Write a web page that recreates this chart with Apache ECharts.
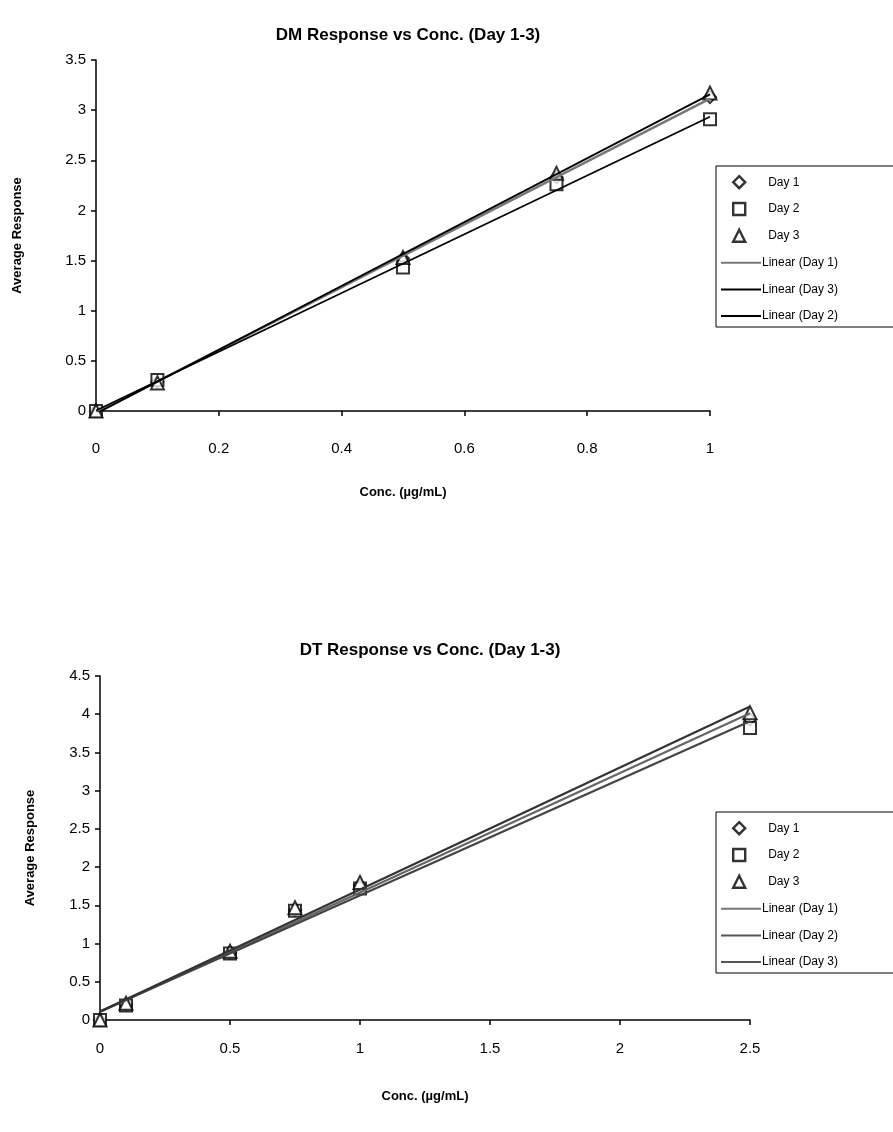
<!DOCTYPE html>
<html><head><meta charset="utf-8">
<script src="https://cdn.jsdelivr.net/npm/echarts@6/dist/echarts.min.js"></script>
<style>html,body{margin:0;padding:0;background:#fff}#c{width:893px;height:1132px}</style>
</head><body><div id="c"></div>
<script>
// ---- Top chart (DM) ----
const dmConc = [0, 0.1, 0.5, 0.75, 1];
const dmDay1 = [0.0, 0.29, 1.52, 2.33, 3.13];
const dmDay2 = [0.0, 0.31, 1.43, 2.26, 2.91];
const dmDay3 = [0.0, 0.28, 1.53, 2.37, 3.17];
// ---- Bottom chart (DT) ----
const dtConc = [0, 0.1, 0.5, 0.75, 1, 2.5];
const dtDay1 = [0.0, 0.20, 0.88, 1.44, 1.76, 3.93];
const dtDay2 = [0.0, 0.19, 0.87, 1.43, 1.72, 3.82];
const dtDay3 = [0.0, 0.22, 0.90, 1.47, 1.80, 4.02];

const titles = ['DM Response vs Conc. (Day 1-3)', 'DT Response vs Conc. (Day 1-3)'];
const xName = 'Conc. (µg/mL)';
const yName = 'Average Response';

function fit(xs, ys) {
  const n = xs.length;
  const mx = xs.reduce((a, b) => a + b, 0) / n;
  const my = ys.reduce((a, b) => a + b, 0) / n;
  let sxy = 0, sxx = 0;
  for (let i = 0; i < n; i++) { sxy += (xs[i] - mx) * (ys[i] - my); sxx += (xs[i] - mx) ** 2; }
  const a = sxy / sxx, b = my - a * mx;
  const x0 = Math.min(...xs), x1 = Math.max(...xs);
  return [[x0, a * x0 + b], [x1, a * x1 + b]];
}
const pts = (xs, ys) => xs.map((x, i) => [x, ys[i]]);

const FONT = '"Liberation Sans", Arial, sans-serif';
const markerStyle = { color: '#fff', borderColor: '#000', borderWidth: 2 };
const LINE_ICON = 'path://M0,0 L40,0 L40,2 L0,2 Z';

function scatter(name, sym, xs, ys, gi) {
  return { name, type: 'scatter', xAxisIndex: gi, yAxisIndex: gi, symbol: sym, symbolSize: sym === 'triangle' ? 13 : 12,
    itemStyle: markerStyle, data: pts(xs, ys), z: 3 };
}
function trend(name, xs, ys, gi, color, w) {
  return { name, type: 'line', xAxisIndex: gi, yAxisIndex: gi, symbol: 'none', showSymbol: false,
    lineStyle: { color, width: w }, itemStyle: { color }, data: fit(xs, ys), z: 4, silent: true };
}

const axisCommon = {
  axisLine: { show: true, onZero: false, lineStyle: { color: '#000', width: 1.5 } },
  axisTick: { show: true, inside: false, length: 5, lineStyle: { color: '#000', width: 1.5 } },
  splitLine: { show: false },
  axisLabel: { color: '#000', fontSize: 15, fontFamily: FONT, margin: 10 },
  nameTextStyle: { color: '#000', fontSize: 13, fontWeight: 'bold', fontFamily: FONT },
  nameLocation: 'middle'
};

const ROW = 26.6;
const legendText = { color: '#000', fontSize: 12, fontFamily: FONT };
function markerLegend(left, top, names, labels, syms) {
  return { orient: 'vertical', left, top, itemWidth: 12, itemHeight: 12, itemGap: 12.4, padding: 0,
    selectedMode: false, z: 10, textStyle: Object.assign({}, legendText, { padding: [0, 0, 0, 18] }),
    formatter: n => labels[names.indexOf(n)],
    data: names.map((n, i) => ({ name: n, icon: syms[i], itemStyle: { color: '#fff', borderColor: '#000', borderWidth: 2.4 } })) };
}
function lineLegend(left, top, names, labels, colors) {
  return { orient: 'vertical', left, top, itemWidth: 40, itemHeight: 12, itemGap: ROW - 12,
    padding: [11 + 3 * ROW, 90, 5, 5], borderColor: '#000', borderWidth: 1, selectedMode: false, z: 9,
    textStyle: Object.assign({}, legendText, { padding: [0, 0, 0, -4] }),
    formatter: n => labels[names.indexOf(n)],
    data: names.map((n, i) => ({ name: n, icon: LINE_ICON, itemStyle: { color: colors[i], borderWidth: 0 } })) };
}

const option = {
  backgroundColor: '#fff',
  animation: false,
  title: [
    { text: titles[0], left: 403, top: 22, textAlign: 'center', textStyle: { fontSize: 17, fontWeight: 'bold', color: '#000', fontFamily: FONT } },
    { text: titles[1], left: 425, top: 637, textAlign: 'center', textStyle: { fontSize: 17, fontWeight: 'bold', color: '#000', fontFamily: FONT } }
  ],
  grid: [
    { left: 96, top: 60, width: 614, height: 351 },
    { left: 100, top: 676, width: 650, height: 344 }
  ],
  xAxis: [
    Object.assign({}, axisCommon, { gridIndex: 0, type: 'value', min: 0, max: 1, interval: 0.2, name: xName, nameGap: 75,
      axisLabel: Object.assign({}, axisCommon.axisLabel, { margin: 30 }) }),
    Object.assign({}, axisCommon, { gridIndex: 1, type: 'value', min: 0, max: 2.5, interval: 0.5, name: xName, nameGap: 70,
      axisLabel: Object.assign({}, axisCommon.axisLabel, { margin: 21 }) })
  ],
  yAxis: [
    Object.assign({}, axisCommon, { gridIndex: 0, type: 'value', min: 0, max: 3.5, interval: 0.5, name: yName, nameGap: 72 }),
    Object.assign({}, axisCommon, { gridIndex: 1, type: 'value', min: 0, max: 4.5, interval: 0.5, name: yName, nameGap: 63 })
  ],
  legend: [
    markerLegend(732, 175, ['Day 1', 'Day 2', 'Day 3'], ['Day 1', 'Day 2', 'Day 3'], ['diamond', 'rect', 'triangle']),
    lineLegend(716, 166, ['Linear (Day 1)', 'Linear (Day 3)', 'Linear (Day 2)'], ['Linear (Day 1)', 'Linear (Day 3)', 'Linear (Day 2)'], ['#777', '#000', '#000']),
    markerLegend(732, 821, ['DT Day 1', 'DT Day 2', 'DT Day 3'], ['Day 1', 'Day 2', 'Day 3'], ['diamond', 'rect', 'triangle']),
    lineLegend(716, 812, ['DT Linear (Day 1)', 'DT Linear (Day 2)', 'DT Linear (Day 3)'], ['Linear (Day 1)', 'Linear (Day 2)', 'Linear (Day 3)'], ['#777', '#555', '#555'])
  ],
  series: [
    scatter('Day 1', 'diamond', dmConc, dmDay1, 0),
    scatter('Day 2', 'rect', dmConc, dmDay2, 0),
    scatter('Day 3', 'triangle', dmConc, dmDay3, 0),
    trend('Linear (Day 1)', dmConc, dmDay1, 0, '#777', 2.5),
    trend('Linear (Day 3)', dmConc, dmDay3, 0, '#000', 1.8),
    trend('Linear (Day 2)', dmConc, dmDay2, 0, '#000', 1.8),
    scatter('DT Day 1', 'diamond', dtConc, dtDay1, 1),
    scatter('DT Day 2', 'rect', dtConc, dtDay2, 1),
    scatter('DT Day 3', 'triangle', dtConc, dtDay3, 1),
    trend('DT Linear (Day 1)', dtConc, dtDay1, 1, '#666', 2.2),
    trend('DT Linear (Day 2)', dtConc, dtDay2, 1, '#444', 2.2),
    trend('DT Linear (Day 3)', dtConc, dtDay3, 1, '#333', 2.2)
  ]
};
const chart = echarts.init(document.getElementById('c'), null, { renderer: 'canvas' });
chart.setOption(option);
</script></body></html>
